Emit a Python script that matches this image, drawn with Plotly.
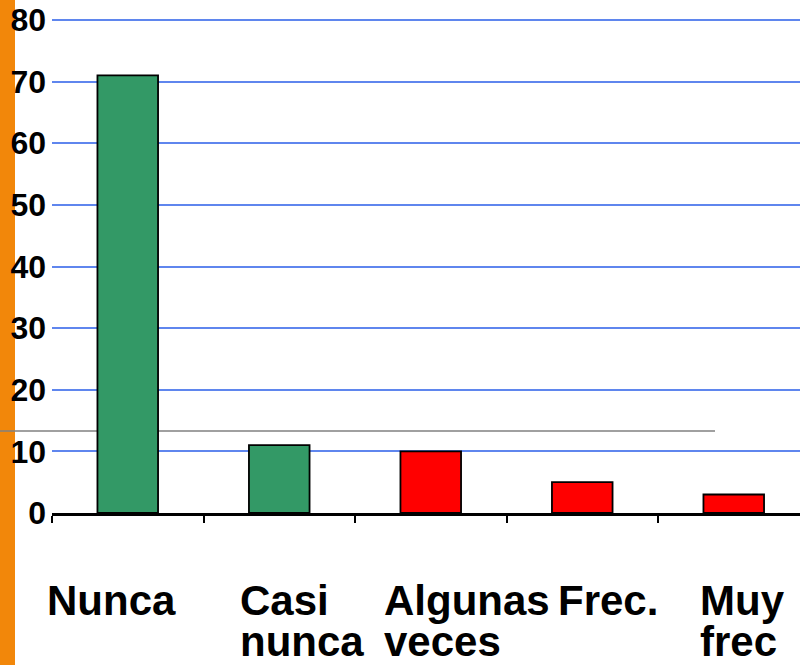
import plotly.graph_objects as go

categories = ["Nunca", "Casi nunca", "Algunas veces", "Frec.", "Muy frec"]
values = [71, 11, 10, 5, 3]
y_ticks = [0, 10, 20, 30, 40, 50, 60, 70, 80]

GREEN = "#339966"
RED = "#FF0000"
bar_colors = [GREEN, GREEN, RED, RED, RED]

# label placement (left edge offset from category centre, px)
label_shift = [-83, -41, -49, -26, -36]

W, H = 800, 665
L, T, B = 52, 16, 152
plot_w = W - L
plot_h = H - T - B
cat_px = 151.5
y_top = plot_h / (493 / 80)  # keeps 80 at the same height with a small headroom

fig = go.Figure(go.Bar(
    x=categories,
    y=values,
    width=0.4,
    marker_color=bar_colors,
    marker_line_color="black",
    marker_line_width=1.8,
    hoverinfo="skip",
))

annotations = []
for i, (lab, dx) in enumerate(zip(categories, label_shift)):
    for j, line in enumerate(lab.split(" ")):
        annotations.append(dict(
            x=i, xref="x", y=0, yref="y",
            text=line, showarrow=False,
            xanchor="left", yanchor="middle",
            xshift=dx, yshift=-87 - 41 * j,
            font=dict(family="Liberation Sans, Arial", size=42,
                      color="black", weight="bold"),
        ))

fig.update_layout(
    width=W, height=H,
    margin=dict(l=L, r=0, t=T, b=B),
    paper_bgcolor="white",
    plot_bgcolor="white",
    showlegend=False,
    xaxis=dict(
        type="category",
        range=[-0.5, -0.5 + plot_w / cat_px],
        showticklabels=False,
        tickson="boundaries",
        ticks="outside", ticklen=7, tickwidth=1.5, tickcolor="black",
        showline=True, linecolor="black", linewidth=2.5,
        showgrid=False, zeroline=False,
    ),
    yaxis=dict(
        range=[0, y_top],
        tickvals=y_ticks,
        tickfont=dict(family="Liberation Sans, Arial", size=32,
                      color="black", weight="bold"),
        ticklabelstandoff=5,
        showgrid=True, gridcolor="#5F86EE", gridwidth=1.5,
        zeroline=False, showline=False, ticks="",
    ),
    annotations=annotations,
    shapes=[
        dict(type="rect", xref="paper", yref="paper",
             x0=-L / plot_w, x1=(15 - L) / plot_w,
             y0=-B / plot_h, y1=(plot_h + T) / plot_h,
             fillcolor="#F2870A", line_width=0, layer="below"),
        dict(type="line", xref="paper", yref="paper",
             x0=-L / plot_w, x1=(715 - L) / plot_w,
             y0=(513 - 431) / plot_h, y1=(513 - 431) / plot_h,
             line=dict(color="#808080", width=1.5), layer="between"),
    ],
)

fig.write_html("out.html", config={"displayModeBar": False},
               post_script="document.body.style.margin='0';")
